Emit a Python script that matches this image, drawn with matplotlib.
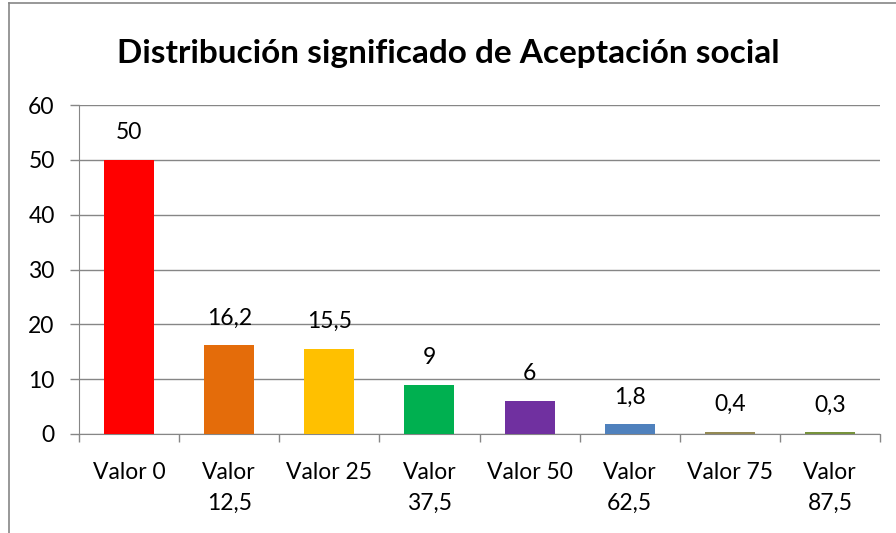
import numpy as np
import matplotlib.pyplot as plt

# Datos
categorias = ['Valor 0', 'Valor\n12,5', 'Valor 25', 'Valor\n37,5', 'Valor 50',
              'Valor\n62,5', 'Valor 75', 'Valor\n87,5']
valores = [50, 16.2, 15.5, 9, 6, 1.8, 0.4, 0.3]
etiquetas = ['50', '16,2', '15,5', '9', '6', '1,8', '0,4', '0,3']
colores = ['#FF0000', '#E46C0A', '#FFC000', '#00B050', '#7030A0',
           '#4F81BD', '#948A54', '#77933C']

plt.rcParams['font.family'] = ['Lato', 'DejaVu Sans']

fig = plt.figure(figsize=(8.96, 5.33), dpi=100)
ax = fig.add_axes([79/896, 1 - 434/533, (880-79)/896, (434-105)/533])

x = np.arange(len(valores))
ax.bar(x, valores, width=0.5, color=colores, zorder=3)

for xi, v, t in zip(x, valores, etiquetas):
    ax.annotate(t, (xi, v), xytext=(0, 12), textcoords='offset points',
                ha='center', va='bottom', fontsize=16.5, color='black')

ax.set_xlim(-0.5, len(valores) - 0.5)
ax.set_ylim(0, 60)
ax.set_yticks(range(0, 61, 10))
ax.set_xticks(x)
ax.set_xticklabels(categorias, fontsize=16.5)
for lbl in ax.get_xticklabels():
    lbl.set_linespacing(1.6)
ax.set_xticks(np.arange(-0.5, len(valores)), minor=True)
ax.tick_params(axis='x', which='major', length=0, pad=20)
ax.tick_params(axis='x', which='minor', length=6, color='#868686', width=1)
ax.tick_params(axis='y', length=6.5, color='#868686', width=1, labelsize=16.5, pad=11)

ax.grid(axis='y', color='#868686', linewidth=1, zorder=0)
for s in ['top', 'right']:
    ax.spines[s].set_visible(False)
ax.spines['left'].set_color('#868686')
ax.spines['bottom'].set_color('#868686')

fig.text(0.5, 1 - 54/533, 'Distribución significado de Aceptación social',
         ha='center', va='center', fontsize=24, fontweight='bold')

# Borde del gráfico
fig.add_artist(plt.Line2D([9/896, 9/896], [0, 1 - 3/533], color='#868686', lw=1.2,
                          transform=fig.transFigure))
fig.add_artist(plt.Line2D([9/896, 1], [1 - 3/533, 1 - 3/533], color='#868686', lw=1.2,
                          transform=fig.transFigure))

fig.savefig('out.png', dpi=100)
